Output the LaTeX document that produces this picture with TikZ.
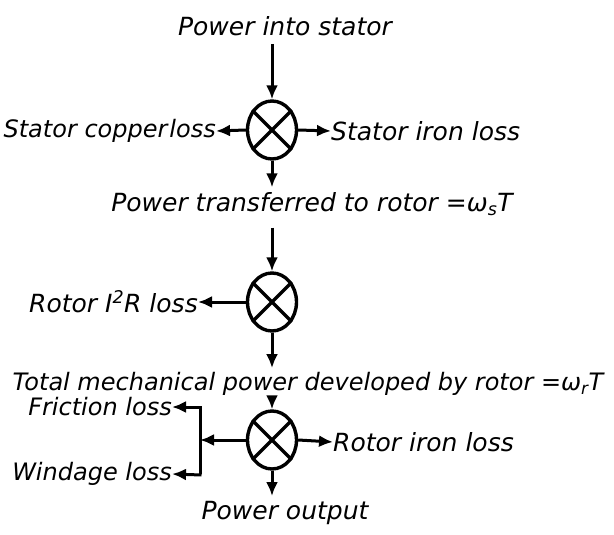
\documentclass[tikz,border=0pt]{standalone}
\usepackage{fontspec}
\setmainfont{DejaVu Sans}
\usetikzlibrary{shapes.geometric,arrows.meta}
\begin{document}
\begin{tikzpicture}[x=1pt,y=-1pt,
  lbl/.style={font=\itshape\fontsize{25}{28}\selectfont, inner sep=0pt},
  junc/.style={draw, ellipse, line width=3.4pt, minimum width=49pt, minimum height=58pt, inner sep=0pt},
  crossline/.style={line width=3.4pt},
  pipe/.style={line width=3pt},
  flow/.style={-{Latex[length=14pt,width=12pt]}, line width=3pt}]
\useasboundingbox (0,0) rectangle (614,535);

% stage 1
\node[lbl] (pin) at (285,26) {Power into stator};
\node[junc] (c1) at (272,130) {};
\draw[crossline] (c1.45) -- (c1.225) (c1.135) -- (c1.315);
\draw[flow, shorten <=8pt] (pin.south -| c1.north) -- (c1.north);
\node[lbl, anchor=east, font=\itshape\fontsize{24}{28}\selectfont] (scl) at (216,131) {Stator copper\hspace{0.08em}loss};
\draw[flow] (c1.west) -- (scl.east);
\node[lbl, anchor=west] (sil) at (331,131) {Stator iron loss};
\draw[flow] (c1.east) -- (sil.west);
\node[lbl] (ptr) at (312,204) {Power transferred to rotor =ω\textsubscript{s}T};
\draw[flow, shorten >=5pt] (c1.south) -- (ptr.north -| c1.south);

% stage 2
\node[junc] (c2) at (272,302) {};
\draw[crossline] (c2.45) -- (c2.225) (c2.135) -- (c2.315);
\draw[flow, shorten <=12pt] (ptr.south -| c2.north) -- (c2.north);
\node[lbl, anchor=east] (rl) at (198,302) {Rotor I\textsuperscript{2}R loss};
\draw[flow] (c2.west) -- (rl.east);
\node[lbl, font=\itshape\fontsize{24}{28}\selectfont] (tm) at (308,384) {Total mechanical power developed by rotor =ω\textsubscript{r}T};
\draw[flow, shorten >=4pt] (c2.south) -- (tm.north -| c2.south);

% stage 3
\node[junc] (c3) at (272,440) {};
\draw[crossline] (c3.45) -- (c3.225) (c3.135) -- (c3.315);
\draw[flow, shorten <=2pt] (tm.south -| c3.north) -- (c3.north);
\node[lbl, anchor=west] (ril) at (333,442) {Rotor iron loss};
\draw[flow] (c3.east) -- (ril.west);
\coordinate (j) at (200,440);
\coordinate (jt) at (200,407);
\coordinate (jb) at (200,475);
\draw[flow] (c3.west) -- (j);
\draw[pipe] ([yshift=-1.5pt]jt) -- ([yshift=1.5pt]jb);
\node[lbl, anchor=east, font=\itshape\fontsize{24}{28}\selectfont] (fl) at (172,407) {Friction loss};
\node[lbl, anchor=east, font=\itshape\fontsize{24}{28}\selectfont] (wl) at (172,474) {Windage loss};
\draw[flow] ([xshift=1.5pt]jt) -- (fl.east);
\draw[flow] ([xshift=1.5pt]jb) -- (wl.east);
\node[lbl] (po) at (285,513) {Power output};
\draw[flow, shorten >=5pt] (c3.south) -- (po.north -| c3.south);
\end{tikzpicture}
\end{document}
